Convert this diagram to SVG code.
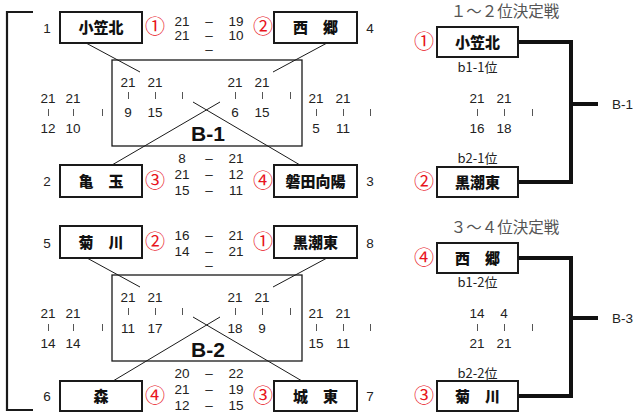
<svg xmlns="http://www.w3.org/2000/svg" width="638" height="412" viewBox="0 0 638 412">
<style>
.bg{fill:#fff}
.box{fill:#fff;stroke:#1a1a1a;stroke-width:2}
.frame{fill:none;stroke:#1a1a1a;stroke-width:1.3}
.nm{font-family:"Noto Sans CJK JP",sans-serif;font-weight:900;font-size:15px;fill:#111;text-anchor:middle}
.sc{font-family:"Liberation Sans",Arial,sans-serif;font-size:13.5px;fill:#222;text-anchor:middle}
.tk{stroke:#555;stroke-width:1;fill:none}
.ci{font-family:"Noto Sans CJK JP",sans-serif;font-size:20px;fill:#e8141c;text-anchor:middle}
.bl{font-family:"Liberation Sans",Arial,sans-serif;font-weight:bold;font-size:21px;fill:#111;text-anchor:middle}
.ttl{font-family:"Noto Sans CJK JP",serif;font-size:15.5px;fill:#555;text-anchor:middle}
.lb{font-family:"Noto Sans CJK JP",sans-serif;font-size:13px;fill:#222;text-anchor:middle}
.thin{stroke:#1a1a1a;stroke-width:1;fill:none}
.thick{stroke:#111;stroke-width:4;fill:none}
.brk{stroke:#1a1a1a;stroke-width:2.2;fill:none}
</style>
<rect class="bg" x="0" y="0" width="638" height="412"/>

<g id="connectors">
  <polyline class="brk" points="33,12 7,12 7,410 33,410"/>
  <line class="thin" x1="86" y1="43" x2="140" y2="72"/>
  <line class="thin" x1="327" y1="43" x2="273" y2="72"/>
  <line class="thin" x1="193" y1="102" x2="300" y2="165"/>
  <line class="thin" x1="220" y1="102" x2="112" y2="165"/>
  <line class="thin" x1="87" y1="258" x2="140" y2="287"/>
  <line class="thin" x1="327" y1="258" x2="273" y2="287"/>
  <line class="thin" x1="193" y1="317" x2="302" y2="381"/>
  <line class="thin" x1="220" y1="317" x2="113" y2="381"/>
  <polyline class="thick" points="518,42 571,42 571,182 518,182"/>
  <line class="thick" x1="571" y1="104" x2="598" y2="104"/>
  <polyline class="thick" points="518,258 571,258 571,396 518,396"/>
  <line class="thick" x1="571" y1="318" x2="598" y2="318"/>
</g>

<g id="poolB1">
  <rect class="frame" x="112" y="60" width="190" height="86"/>
  <text class="bl" x="208" y="141">B-1</text>
  <text class="sc" x="128" y="87">21</text><text class="sc" x="155" y="87">21</text>
  <text class="sc" x="235" y="87">21</text><text class="sc" x="262" y="87">21</text>
  <path class="tk" d="M128.5 92v7M155.5 92v7M182.5 92v7M235.5 92v7M262.5 92v7M290.5 92v7"/>
  <text class="sc" x="128" y="117">9</text><text class="sc" x="155" y="117">15</text>
  <text class="sc" x="235" y="117">6</text><text class="sc" x="262" y="117">15</text>
  <text class="sc" x="48" y="103">21</text><text class="sc" x="73" y="103">21</text>
  <path class="tk" d="M48.5 109v7M73.5 109v7M102.5 109v7M316.5 109v7M343.5 109v7M370.5 109v7"/>
  <text class="sc" x="48" y="133">12</text><text class="sc" x="73" y="133">10</text>
  <text class="sc" x="316" y="103">21</text><text class="sc" x="343" y="103">21</text>
  <text class="sc" x="316" y="133">5</text><text class="sc" x="343" y="133">11</text>
  <text class="sc" x="182" y="26">21</text><text class="sc" x="209" y="26">–</text><text class="sc" x="236" y="26">19</text>
  <text class="sc" x="182" y="40">21</text><text class="sc" x="209" y="40">–</text><text class="sc" x="236" y="40">10</text>
  <text class="sc" x="209" y="54">–</text>
  <text class="sc" x="182" y="163">8</text><text class="sc" x="209" y="163">–</text><text class="sc" x="236" y="163">21</text>
  <text class="sc" x="182" y="179">21</text><text class="sc" x="209" y="179">–</text><text class="sc" x="236" y="179">12</text>
  <text class="sc" x="182" y="195">15</text><text class="sc" x="209" y="195">–</text><text class="sc" x="236" y="195">11</text>
</g>

<g id="poolB2">
  <rect class="frame" x="112" y="275" width="190" height="86"/>
  <text class="bl" x="208" y="357">B-2</text>
  <text class="sc" x="128" y="302">21</text><text class="sc" x="155" y="302">21</text>
  <text class="sc" x="235" y="302">21</text><text class="sc" x="262" y="302">21</text>
  <path class="tk" d="M128.5 308v7M155.5 308v7M182.5 308v7M235.5 308v7M262.5 308v7M290.5 308v7"/>
  <text class="sc" x="128" y="333">11</text><text class="sc" x="155" y="333">17</text>
  <text class="sc" x="235" y="333">18</text><text class="sc" x="262" y="333">9</text>
  <text class="sc" x="48" y="318">21</text><text class="sc" x="73" y="318">21</text>
  <path class="tk" d="M48.5 324v7M73.5 324v7M102.5 324v7M316.5 324v7M343.5 324v7M370.5 324v7"/>
  <text class="sc" x="48" y="348">14</text><text class="sc" x="73" y="348">14</text>
  <text class="sc" x="316" y="318">21</text><text class="sc" x="343" y="318">21</text>
  <text class="sc" x="316" y="348">15</text><text class="sc" x="343" y="348">11</text>
  <text class="sc" x="182" y="240">16</text><text class="sc" x="209" y="240">–</text><text class="sc" x="236" y="240">21</text>
  <text class="sc" x="182" y="256">14</text><text class="sc" x="209" y="256">–</text><text class="sc" x="236" y="256">21</text>
  <text class="sc" x="209" y="270">–</text>
  <text class="sc" x="182" y="378">20</text><text class="sc" x="209" y="378">–</text><text class="sc" x="236" y="378">22</text>
  <text class="sc" x="182" y="394">21</text><text class="sc" x="209" y="394">–</text><text class="sc" x="236" y="394">19</text>
  <text class="sc" x="182" y="410">12</text><text class="sc" x="209" y="410">–</text><text class="sc" x="236" y="410">15</text>
</g>

<g id="n-ogasakita">
  <text class="sc" x="47" y="33">1</text>
  <rect class="box" x="60" y="12" width="82" height="31"/>
  <text class="nm" x="101" y="33">小笠北</text>
  <text class="ci" x="155" y="34">①</text>
</g>
<g id="n-saigo">
  <text class="ci" x="263" y="34">②</text>
  <rect class="box" x="274" y="12" width="83" height="31"/>
  <text class="nm" x="315.5" y="33">西　郷</text>
  <text class="sc" x="370" y="33">4</text>
</g>
<g id="n-kamedama">
  <text class="sc" x="47" y="186">2</text>
  <rect class="box" x="60" y="165" width="82" height="32"/>
  <text class="nm" x="101" y="186.5">亀　玉</text>
  <text class="ci" x="155" y="188">③</text>
</g>
<g id="n-iwatakoyo">
  <text class="ci" x="263" y="188">④</text>
  <rect class="box" x="274" y="165" width="83" height="32"/>
  <text class="nm" x="315.5" y="186.5">磐田向陽</text>
  <text class="sc" x="370" y="186">3</text>
</g>
<g id="n-kikugawa">
  <text class="sc" x="47" y="248">5</text>
  <rect class="box" x="60" y="226" width="82" height="32"/>
  <text class="nm" x="101" y="247.5">菊　川</text>
  <text class="ci" x="155" y="249">②</text>
</g>
<g id="n-kuroshiohigashi">
  <text class="ci" x="263" y="249">①</text>
  <rect class="box" x="274" y="226" width="83" height="32"/>
  <text class="nm" x="315.5" y="247.5">黒潮東</text>
  <text class="sc" x="370" y="248">8</text>
</g>
<g id="n-mori">
  <text class="sc" x="47" y="401">6</text>
  <rect class="box" x="60" y="381" width="82" height="30"/>
  <text class="nm" x="101" y="401.5">森</text>
  <text class="ci" x="155" y="403">④</text>
</g>
<g id="n-johigashi">
  <text class="ci" x="263" y="403">③</text>
  <rect class="box" x="274" y="381" width="83" height="30"/>
  <text class="nm" x="315.5" y="401.5">城　東</text>
  <text class="sc" x="370" y="401">7</text>
</g>

<g id="final12">
  <text class="ttl" x="505" y="17">１～２位決定戦</text>
  <text class="lb" x="477.5" y="72">b1-1位</text>
  <text class="sc" x="477" y="103">21</text><text class="sc" x="504" y="103">21</text>
  <path class="tk" d="M477.5 109v7M504.5 109v7M532.5 109v7"/>
  <text class="sc" x="477" y="133">16</text><text class="sc" x="504" y="133">18</text>
  <text class="lb" x="477.5" y="163">b2-1位</text>
  <text class="sc" x="612" y="109" style="text-anchor:start">B-1</text>
</g>
<g id="f-ogasakita">
  <text class="ci" x="424" y="49">①</text>
  <rect class="box" x="437" y="27" width="81" height="30"/>
  <text class="nm" x="477.5" y="47.5">小笠北</text>
</g>
<g id="f-kuroshiohigashi">
  <text class="ci" x="424" y="189">②</text>
  <rect class="box" x="437" y="167" width="81" height="30"/>
  <text class="nm" x="477.5" y="187.5">黒潮東</text>
</g>

<g id="final34">
  <text class="ttl" x="505" y="233">３～４位決定戦</text>
  <text class="lb" x="477.5" y="287">b1-2位</text>
  <text class="sc" x="477" y="318">14</text><text class="sc" x="504" y="318">4</text>
  <path class="tk" d="M477.5 324v7M504.5 324v7M532.5 324v7"/>
  <text class="sc" x="477" y="348">21</text><text class="sc" x="504" y="348">21</text>
  <text class="lb" x="477.5" y="378">b2-2位</text>
  <text class="sc" x="612" y="323" style="text-anchor:start">B-3</text>
</g>
<g id="f-saigo">
  <text class="ci" x="424" y="265">④</text>
  <rect class="box" x="437" y="243" width="81" height="30"/>
  <text class="nm" x="477.5" y="263.5">西　郷</text>
</g>
<g id="f-kikugawa">
  <text class="ci" x="424" y="403">③</text>
  <rect class="box" x="437" y="381" width="81" height="30"/>
  <text class="nm" x="477.5" y="401.5">菊　川</text>
</g>
</svg>
